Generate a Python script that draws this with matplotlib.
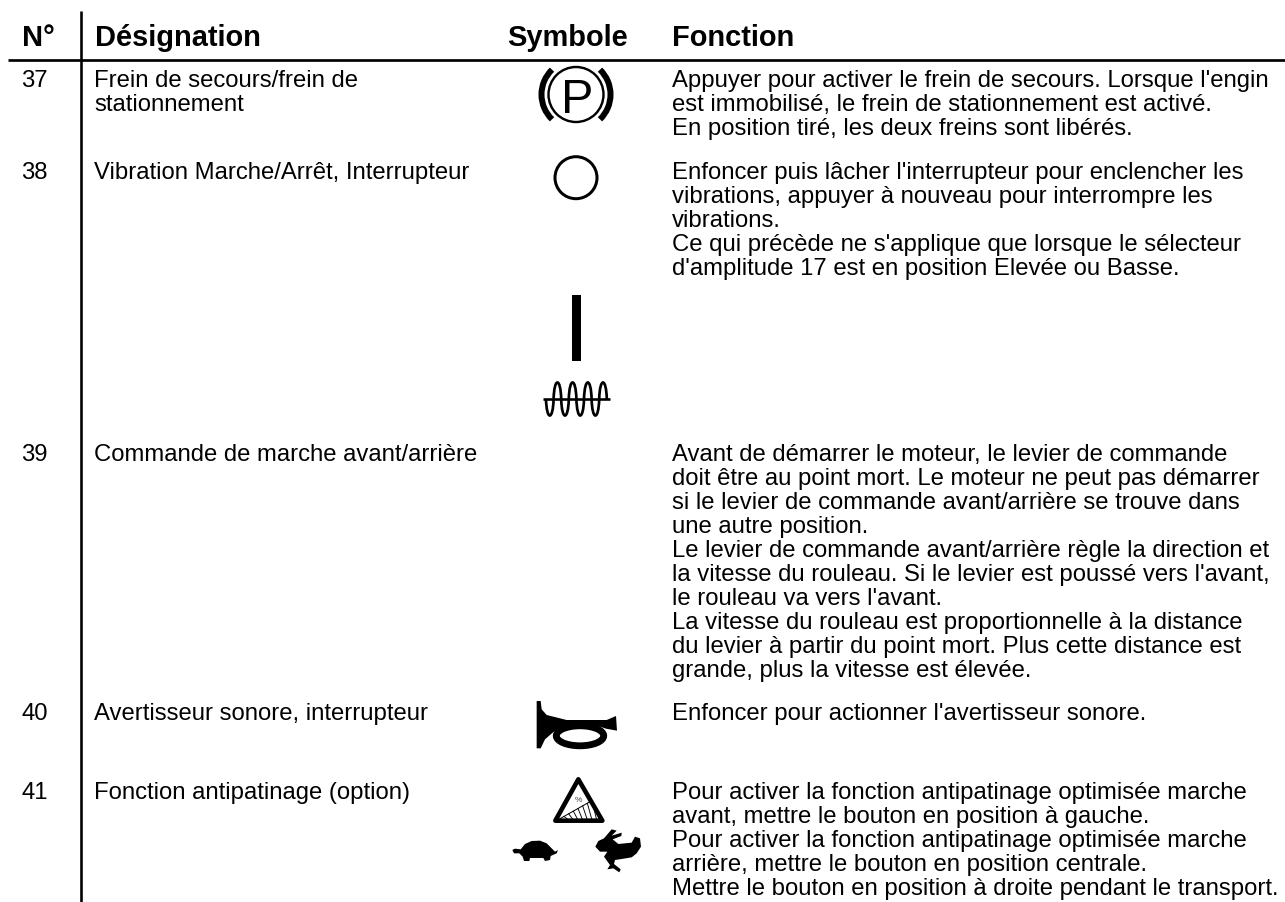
import numpy as np
import matplotlib
matplotlib.use("Agg")
import matplotlib.pyplot as plt
from matplotlib.patches import Circle, Arc, Ellipse, Polygon, Rectangle, PathPatch
from matplotlib.path import Path

W, H = 1285, 902
plt.rcParams['font.family'] = ['Liberation Sans', 'DejaVu Sans']

headers = ["N°", "Désignation", "Symbole", "Fonction"]
header_x = [22.5, 95, 507.5, 671.5]

numbers = ["37", "38", "39", "40", "41"]
number_y = [87, 179, 461, 720, 799]

designations = [
    ("Frein de secours/frein de", 87),
    ("stationnement", 111),
    ("Vibration Marche/Arrêt, Interrupteur", 179),
    ("Commande de marche avant/arrière", 461),
    ("Avertisseur sonore, interrupteur", 720),
    ("Fonction antipatinage (option)", 799),
]

functions = [
    ("Appuyer pour activer le frein de secours. Lorsque l'engin", 87),
    ("est immobilisé, le frein de stationnement est activé.", 111),
    ("En position tiré, les deux freins sont libérés.", 135.5),
    ("Enfoncer puis lâcher l'interrupteur pour enclencher les", 179),
    ("vibrations, appuyer à nouveau pour interrompre les", 203),
    ("vibrations.", 227),
    ("Ce qui précède ne s'applique que lorsque le sélecteur", 251),
    ("d'amplitude 17 est en position Elevée ou Basse.", 275),
    ("Avant de démarrer le moteur, le levier de commande", 461),
    ("doit être au point mort. Le moteur ne peut pas démarrer", 485),
    ("si le levier de commande avant/arrière se trouve dans", 509),
    ("une autre position.", 533),
    ("Le levier de commande avant/arrière règle la direction et", 557),
    ("la vitesse du rouleau. Si le levier est poussé vers l'avant,", 581),
    ("le rouleau va vers l'avant.", 605),
    ("La vitesse du rouleau est proportionnelle à la distance", 629),
    ("du levier à partir du point mort. Plus cette distance est", 653),
    ("grande, plus la vitesse est élevée.", 677),
    ("Enfoncer pour actionner l'avertisseur sonore.", 720),
    ("Pour activer la fonction antipatinage optimisée marche", 799),
    ("avant, mettre le bouton en position à gauche.", 823),
    ("Pour activer la fonction antipatinage optimisée marche", 847),
    ("arrière, mettre le bouton en position centrale.", 871),
    ("Mettre le bouton en position à droite pendant le transport.", 895),
]

fig = plt.figure(figsize=(W / 100, H / 100), dpi=100, facecolor='white')
ax = fig.add_axes([0, 0, 1, 1])
ax.set_xlim(0, W)
ax.set_ylim(H, 0)
ax.axis('off')

BODY = 17.2
HEAD = 20.9
k = 'black'


def px(lw):
    return lw * 72 / 100


# rules
ax.plot([8, W], [59.7, 59.7], color=k, lw=px(2.7), solid_capstyle='butt')
ax.plot([81.3, 81.3], [11, H], color=k, lw=px(2.6), solid_capstyle='butt')

for s, x in zip(headers, header_x):
    ax.text(x, 45.5, s, fontsize=HEAD, fontweight='bold', va='baseline', ha='left', color=k)
for s, y in zip(numbers, number_y):
    ax.text(21.5, y, s, fontsize=BODY, va='baseline', ha='left', color=k)
for s, y in designations:
    ax.text(94.5, y, s, fontsize=BODY, va='baseline', ha='left', color=k)
for s, y in functions:
    ax.text(671.5, y, s, fontsize=BODY, va='baseline', ha='left', color=k)

# parking brake symbol
ax.add_patch(Circle((576, 94.5), 27.5, fill=False, ec=k, lw=px(2.4)))
ax.add_patch(Arc((576, 94.5), 69, 69, theta1=134, theta2=226, ec=k, lw=px(6)))
ax.add_patch(Arc((576, 94.5), 69, 69, theta1=-46, theta2=46, ec=k, lw=px(6)))
ax.text(577.5, 95.5, "P", fontsize=35, ha='center', va='center_baseline', color=k)

# vibration circle, bar, wave
ax.add_patch(Circle((576, 177.7), 21, fill=False, ec=k, lw=px(3)))
ax.add_patch(Rectangle((572.3, 295), 8.4, 65.5, fc=k, ec='none'))
ax.plot([543, 610], [399, 399], color=k, lw=px(2.6), solid_capstyle='butt')
verts = [(546, 399)]
codes = [Path.MOVETO]
for i in range(4):
    x0 = 546 + i * 15.2
    verts += [(x0 + 0.6, 421), (x0 + 7, 421), (x0 + 7.6, 399),
              (x0 + 8.2, 377), (x0 + 14.6, 377), (x0 + 15.2, 399)]
    codes += [Path.CURVE4] * 6
ax.add_patch(PathPatch(Path(verts, codes), fill=False, ec=k, lw=px(2.7)))


def crop(pts, ox=500, oy=660):
    return [(ox + x / 3, oy + y / 3) for x, y in pts]


# horn
horn = [(110, 123), (122, 123), (125, 148), (140, 165), (200, 180), (320, 180),
        (348, 168), (351, 212), (318, 206), (300, 200), (200, 197), (165, 212),
        (135, 238), (122, 265), (110, 265)]
ax.add_patch(Polygon(crop(horn), fc=k, ec='none'))
ax.add_patch(Ellipse((580, 735.8), 47.5, 20, fill=False, ec=k, lw=px(6.8)))

# slope warning triangle
tri = [(235, 358), (166, 482), (307, 482)]
tri_patch = Polygon(crop(tri), fill=False, ec=k, lw=px(4.6), joinstyle='round')
ax.add_patch(tri_patch)
ax.plot(*zip(*crop([(180, 476), (272, 424)])), color=k, lw=px(1))
for xb in [192, 206, 220, 234, 248, 262, 276]:
    yt = 476 - (xb - 180) * 52 / 92
    line, = ax.plot(*zip(*crop([(xb, yt), (xb + 14, 480)])), color=k, lw=px(0.9))
    line.set_clip_path(tri_patch)
ax.text(578.5, 801, "%", fontsize=6, ha='center', va='center', color='#444444')

# turtle
turtle = [(37, 570), (45, 566), (62, 568), (75, 552), (95, 543), (120, 542), (140, 550),
          (155, 565), (165, 575), (174, 570), (170, 580), (152, 588), (150, 600), (135, 603),
          (130, 594), (90, 594), (88, 603), (72, 603), (68, 590), (58, 580), (42, 580)]
ax.add_patch(Polygon(crop(turtle), fc=k, ec='none', joinstyle='round'))

# rabbit
rabbit = [(286, 560), (295, 543), (312, 535), (335, 508), (350, 512), (335, 527), (365, 518),
          (364, 528), (338, 538), (355, 552), (395, 548), (405, 530), (420, 535), (423, 560),
          (410, 580), (395, 592), (365, 597), (345, 600), (342, 612), (362, 628), (358, 637),
          (340, 625), (322, 628), (330, 615), (312, 590), (322, 575), (300, 575)]
ax.add_patch(Polygon(crop(rabbit), fc=k, ec='none', joinstyle='round'))

fig.savefig("out.png", dpi=100, facecolor='white')
